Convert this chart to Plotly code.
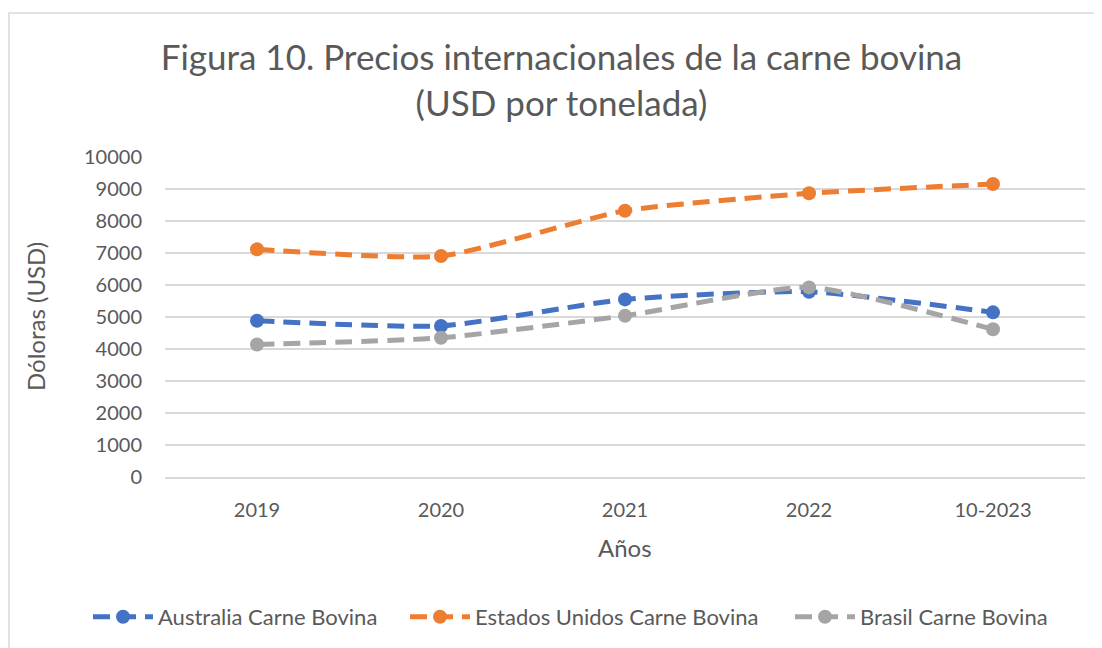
import plotly.graph_objects as go

categories = ["2019", "2020", "2021", "2022", "10-2023"]
australia = [4885, 4720, 5550, 5790, 5145]
estados_unidos = [7115, 6905, 8320, 8865, 9155]
brasil = [4140, 4350, 5040, 5925, 4615]

series = [
    ("Australia Carne Bovina", australia, "#4472C4", "legend"),
    ("Estados Unidos Carne Bovina", estados_unidos, "#ED7D31", "legend2"),
    ("Brasil Carne Bovina", brasil, "#A5A5A5", "legend3"),
]

FONT = "Lato"
TXT = "#595959"

fig = go.Figure()
for name, vals, col, lg in series:
    fig.add_trace(go.Scatter(
        x=categories, y=vals, name=name, mode="lines+markers", legend=lg,
        showlegend=True,
        line=dict(color=col, width=5, dash="17px,9px", shape="spline", smoothing=0.55),
        marker=dict(color=col, size=14, symbol="circle"),
    ))

# page is offset by 8px (body margin) -> figure coords = page coords - 8
W, H = 1094, 640
ml, mr, mt, mb = 157, 17, 149, 171
pw = W - ml - mr   # 920
ph = H - mt - mb   # 320


def px_x(x):
    return (x - ml) / pw


def px_y(y):
    return (H - mb - y) / ph


def legend_at(left):
    return dict(
        orientation="h", xref="container", yref="container",
        x=left / W, xanchor="left",
        y=1 - 609 / H, yanchor="middle", itemwidth=60,
        bgcolor="rgba(0,0,0,0)",
        font=dict(size=22, color=TXT),
    )


fig.update_layout(
    width=W, height=H,
    showlegend=True,
    margin=dict(l=ml, r=mr, t=mt, b=mb, autoexpand=False),
    paper_bgcolor="white", plot_bgcolor="white",
    font=dict(family=FONT, color=TXT),
    title=dict(
        text="Figura 10. Precios internacionales de la carne bovina<br>(USD por tonelada)",
        x=553.5 / W, xanchor="center", y=1 - 62 / H, yanchor="middle",
        font=dict(family=FONT, size=35, color=TXT),
    ),
    xaxis=dict(
        type="category", range=[-0.5, 4.5],
        showgrid=False, showline=True, linecolor="#D9D9D9", linewidth=1.5,
        ticks="", tickfont=dict(size=20, color=TXT), ticklabelstandoff=14,
    ),
    yaxis=dict(
        range=[0, 10000], dtick=1000, tick0=0, tickformat="d",
        showgrid=True, gridcolor="#D9D9D9", gridwidth=1.5,
        zeroline=False, showline=False, ticks="",
        tickfont=dict(size=20, color=TXT), ticklabelstandoff=22,
    ),
    legend=legend_at(80),
    legend2=legend_at(397),
    legend3=legend_at(782),
    annotations=[
        dict(text="Dóloras (USD)", textangle=-90, xref="paper", yref="paper",
             x=px_x(27), y=0.5, xanchor="center", yanchor="middle", showarrow=False,
             font=dict(size=24, color=TXT)),
        dict(text="Años", xref="paper", yref="paper",
             x=0.5, y=px_y(539), xanchor="center", yanchor="middle", showarrow=False,
             font=dict(size=24, color=TXT)),
    ],
    shapes=[dict(
        type="rect", xref="paper", yref="paper",
        x0=px_x(1), x1=px_x(W + 20),
        y0=px_y(H + 20), y1=px_y(5),
        line=dict(color="#D9D9D9", width=1.5), fillcolor="rgba(0,0,0,0)", layer="below",
    )],
)

fig.write_html("out.html")
